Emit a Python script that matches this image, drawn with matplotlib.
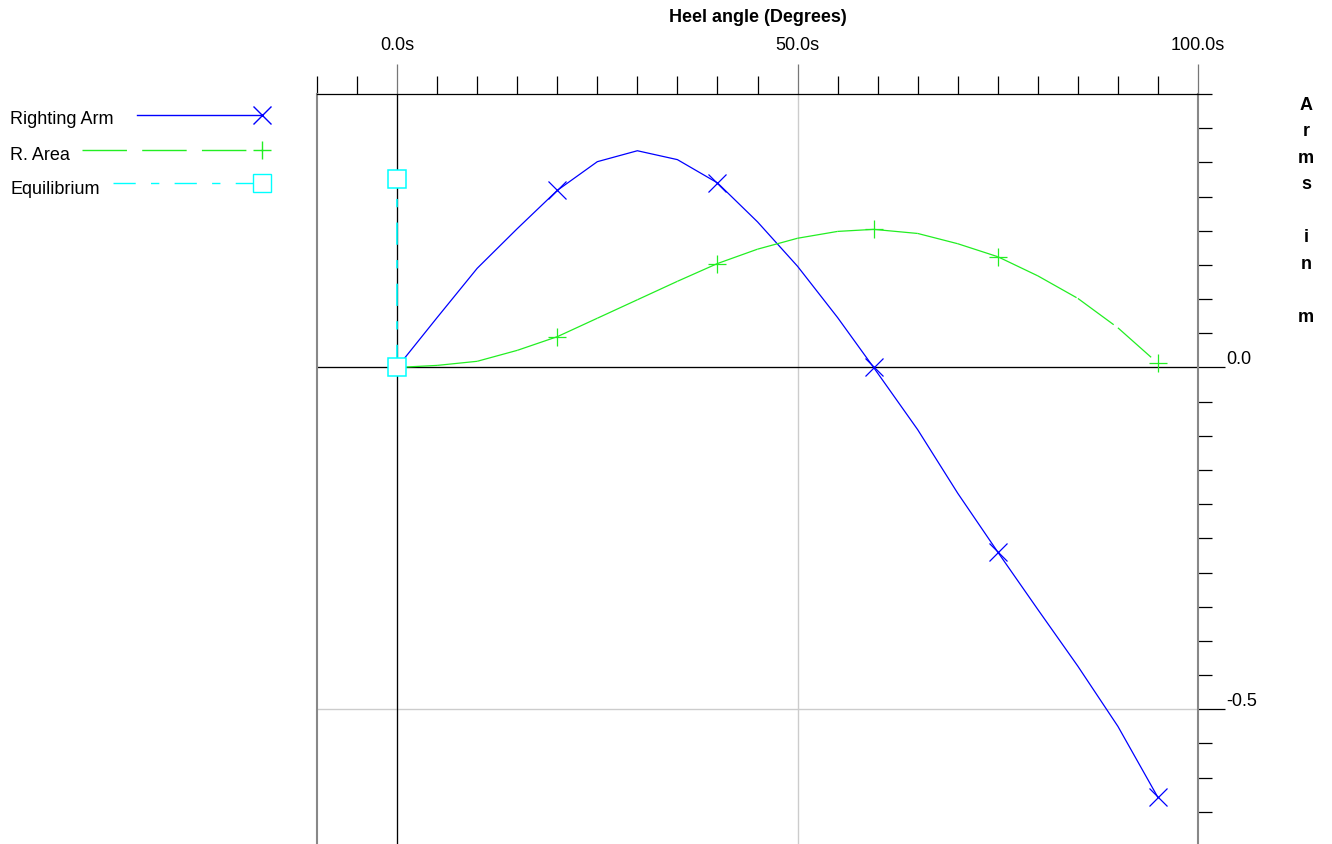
import matplotlib
matplotlib.use("Agg")
import matplotlib.pyplot as plt
from matplotlib.lines import Line2D
from matplotlib.ticker import FixedLocator, FixedFormatter

plt.rcParams['font.family'] = ['Liberation Sans', 'DejaVu Sans']
plt.rcParams['axes.unicode_minus'] = False
plt.rcParams['lines.scale_dashes'] = False

# === Data ===
angles = [0, 5, 10, 15, 20, 25, 30, 35, 40, 45, 50, 55, 59.5, 65, 70, 75, 80, 85, 90, 95]
righting_arm = [0.000, 0.073, 0.145, 0.203, 0.259, 0.301, 0.317, 0.304, 0.270, 0.213,
                0.148, 0.073, 0.000, -0.091, -0.184, -0.270, -0.354, -0.437, -0.525, -0.629]
r_area = [0.000, 0.003, 0.009, 0.025, 0.045, 0.072, 0.099, 0.126, 0.152, 0.173,
          0.189, 0.199, 0.202, 0.196, 0.181, 0.162, 0.134, 0.101, 0.058, 0.006]
mark_idx = [4, 8, 12, 15, 19]

equil_x = [0, 0]
equil_y = [0.0, 0.275]

x_major = [0, 50, 100]
x_labels = ["0.0s", "50.0s", "100.0s"]
y_major = [0.0, -0.5]
y_labels = ["0.0", "-0.5"]

BLUE = '#0000ff'
GREEN = '#22ee22'
CYAN = '#00ffff'
W, H = 1332, 845

def fx(px):
    return px / W

def fy(py):
    return 1 - py / H

fig = plt.figure(figsize=(13.32, 8.45), dpi=100)
ax = fig.add_axes([fx(317), fy(847), fx(1198) - fx(317), fy(95) - fy(847)])
ax.set_xlim(-10, 100)
ax.set_ylim(-0.7, 0.4)

# grid + zero axes
ax.grid(True, which='major', color='#cccccc', linewidth=1.0)
ax.axhline(0, color='black', linewidth=0.9, zorder=2)
ax.axvline(0, color='black', linewidth=0.9, zorder=2)

# Righting arm
ax.plot(angles, righting_arm, color=BLUE, linewidth=0.9, zorder=3)
ax.plot([angles[i] for i in mark_idx], [righting_arm[i] for i in mark_idx],
        linestyle='none', marker='x', markersize=13, markeredgewidth=0.9, color=BLUE, zorder=4)

# R. Area (dash pattern restarts on each segment)
for i in range(len(angles) - 1):
    ax.plot(angles[i:i + 2], r_area[i:i + 2], color=GREEN, linewidth=0.9,
            dashes=(32, 11), zorder=3)
ax.plot([angles[i] for i in mark_idx], [r_area[i] for i in mark_idx],
        linestyle='none', marker='+', markersize=13, markeredgewidth=0.9, color=GREEN, zorder=4)

# Equilibrium
ax.plot(equil_x, equil_y, color=CYAN, linewidth=1.2, dashes=(16, 11, 6, 11), zorder=3)
ax.plot(equil_x, equil_y, linestyle='none', marker='s', markersize=13, markerfacecolor='white',
        markeredgecolor=CYAN, markeredgewidth=1.1, zorder=5)

# spines
ax.spines['bottom'].set_visible(False)
ax.spines['top'].set_color('black')
ax.spines['top'].set_linewidth(0.9)
for s in ('left', 'right'):
    ax.spines[s].set_color('#888888')
    ax.spines[s].set_linewidth(1.5)

# top x axis
ax.xaxis.tick_top()
ax.xaxis.set_major_locator(FixedLocator(x_major))
ax.xaxis.set_major_formatter(FixedFormatter(x_labels))
ax.xaxis.set_minor_locator(FixedLocator([v for v in range(-10, 101, 5) if v not in x_major]))
ax.tick_params(axis='x', which='major', direction='out', length=21.6, width=0.9,
               color='#777777', labelsize=13, pad=8)
ax.tick_params(axis='x', which='minor', direction='out', length=13, width=0.9, color='black')
ax.xaxis.get_major_ticks()[0].tick2line.set_color('black')

# right y axis
ax.yaxis.tick_right()
ax.yaxis.set_major_locator(FixedLocator(y_major))
ax.yaxis.set_major_formatter(FixedFormatter(y_labels))
ax.yaxis.set_minor_locator(FixedLocator([round(0.4 - 0.05 * k, 2) for k in range(23)
                                          if round(0.4 - 0.05 * k, 2) not in y_major]))
ax.tick_params(axis='y', which='major', direction='out', length=19.4, width=0.9,
               color='black', labelsize=13, pad=1)
ax.tick_params(axis='y', which='minor', direction='out', length=10, width=0.9, color='black')
plt.setp(ax.get_yticklabels(), va='bottom')

# titles
fig.text(fx(757.5), fy(17), "Heel angle (Degrees)", ha='center', va='center',
         fontsize=13, fontweight='bold')
fig.text(fx(1306), fy(97), "\n".join(list("Arms in m")), ha='center', va='top',
         fontsize=13, fontweight='bold', linespacing=1.73)

# legend (drawn in figure space)
legend_items = [
    ("Righting Arm", BLUE, dict(), 'x', 119, 116, 137),
    ("R. Area", GREEN, dict(dashes=(32, 11)), '+', 156, 151, 82),
    ("Equilibrium", CYAN, dict(dashes=(16, 11, 6, 11)), 's', 189, 184, 113),
]
for label, col, ls, mk, ty, ly, lx in legend_items:
    fig.text(fx(10), fy(ty), label, ha='left', va='center', fontsize=13)
    fig.add_artist(Line2D([fx(lx), fx(262)], [fy(ly), fy(ly)], transform=fig.transFigure,
                          color=col, linewidth=1.0, **ls))
    fig.add_artist(Line2D([fx(262)], [fy(ly)], transform=fig.transFigure, linestyle='none',
                          marker=mk, markersize=13, markeredgewidth=1.0, color=col,
                          markerfacecolor='white' if mk == 's' else col))

fig.savefig("out.png", dpi=100)
